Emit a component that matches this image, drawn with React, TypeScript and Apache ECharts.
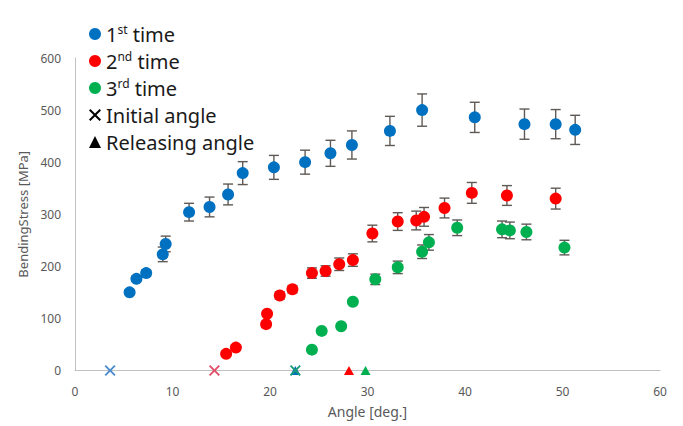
import React, { useEffect, useRef } from "react";
import * as echarts from "echarts";

// 1st time
const firstAngle = [5.6, 6.3, 7.3, 9.0, 9.3, 11.7, 13.8, 15.7, 17.2, 20.4, 23.6, 26.2, 28.4, 32.3, 35.6, 41.0, 46.1, 49.3, 51.3];
const firstStress = [150, 176, 187, 223, 243, 304, 314, 338, 379, 390, 400, 417, 433, 460, 500, 486, 473, 473, 462];
const firstErr = [4, 5, 6, 14, 15, 17, 19, 20, 22, 23, 23, 25, 27, 28, 31, 29, 29, 28, 28];

// 2nd time
const secondAngle = [15.5, 16.5, 19.6, 19.7, 21.0, 22.3, 24.3, 25.7, 27.1, 28.5, 30.5, 33.1, 35.0, 35.8, 37.9, 40.7, 44.3, 49.3];
const secondStress = [32, 44, 89, 109, 144, 156, 187, 191, 204, 212, 263, 286, 288, 295, 312, 341, 336, 330];
const secondErr = [3, 3, 5, 5, 7, 7, 10, 10, 12, 12, 16, 17, 18, 18, 19, 20, 19, 20];

// 3rd time
const thirdAngle = [24.3, 25.3, 27.3, 28.5, 30.8, 33.1, 35.6, 36.3, 39.2, 43.8, 44.6, 46.3, 50.2];
const thirdStress = [40, 76, 85, 132, 175, 198, 228, 246, 274, 271, 269, 266, 236];
const thirdErr = [3, 3, 4, 4, 10, 12, 13, 15, 15, 16, 16, 15, 14];

// Initial / releasing angles (stress = 0)
const initialAngles = [3.6, 14.3, 22.6];
const releasingAngles = [22.6, 28.1, 29.8];

const xTicks = { min: 0, max: 60, interval: 10 };
const yTicks = { min: 0, max: 600, interval: 100 };

const BLUE = "#0070C0";
const RED = "#FF0000";
const GREEN = "#00B050";
const X_BLUE = "#4a8ccc";
const X_RED = "#e0506a";
const X_GREEN = "#1d9a78";

const CROSS = "path://M0,1.2 L1.2,0 L5,3.8 L8.8,0 L10,1.2 L6.2,5 L10,8.8 L8.8,10 L5,6.2 L1.2,10 L0,8.8 L3.8,5 Z";

const FONT = "'Noto Sans', 'DejaVu Sans', sans-serif";

function toPoints(xs: number[], ys: number[]) {
  return xs.map((x, i) => [x, ys[i]]);
}
function toErr(xs: number[], ys: number[], es: number[]) {
  return xs.map((x, i) => [x, ys[i] - es[i], ys[i] + es[i]]);
}

function errorSeries(data: number[][]) {
  return {
    type: "custom",
    z: 1,
    silent: true,
    data,
    encode: { x: 0, y: [1, 2] },
    renderItem: (params: any, api: any) => {
      const x = api.value(0);
      const lo = api.coord([x, api.value(1)]);
      const hi = api.coord([x, api.value(2)]);
      const hw = 5;
      const style = { stroke: "#5f5a55", lineWidth: 1.4, fill: null };
      return {
        type: "group",
        children: [
          { type: "line", shape: { x1: lo[0], y1: lo[1], x2: hi[0], y2: hi[1] }, style },
          { type: "line", shape: { x1: lo[0] - hw, y1: lo[1], x2: lo[0] + hw, y2: lo[1] }, style },
          { type: "line", shape: { x1: hi[0] - hw, y1: hi[1], x2: hi[0] + hw, y2: hi[1] }, style },
        ],
      };
    },
  };
}

const legendLabels: Record<string, string> = {
  "1st time": "1{s|st} time",
  "2nd time": "2{s|nd} time",
  "3rd time": "3{s|rd} time",
  "Initial angle": "Initial angle",
  "Releasing angle": "Releasing angle",
};

export default function App() {
  const ref = useRef<HTMLDivElement>(null);

  useEffect(() => {
    if (!ref.current) return;
    const chart = echarts.init(ref.current, null, { renderer: "svg" });
    const initialColors = [X_BLUE, X_RED, X_GREEN];
    const releaseColors = [BLUE, RED, GREEN];
    chart.setOption({
      animation: false,
      backgroundColor: "#ffffff",
      textStyle: { fontFamily: FONT },
      grid: { left: 75, right: 23, top: 58, bottom: 55.5, containLabel: false },
      legend: {
        orient: "vertical",
        left: 84,
        top: 18,
        itemWidth: 12,
        itemHeight: 12,
        itemGap: 5,
        data: [
          { name: "1st time", icon: "circle" },
          { name: "2nd time", icon: "circle" },
          { name: "3rd time", icon: "circle" },
          { name: "Initial angle", icon: CROSS },
          { name: "Releasing angle", icon: "triangle" },
        ],
        formatter: (name: string) => legendLabels[name] || name,
        textStyle: {
          fontFamily: FONT,
          fontSize: 20,
          color: "#1a1a1a",
          lineHeight: 22,
          rich: {
            s: { fontFamily: FONT, fontSize: 12, color: "#1a1a1a", verticalAlign: "top" },
          },
        },
      },
      xAxis: {
        type: "value",
        min: xTicks.min,
        max: xTicks.max,
        interval: xTicks.interval,
        name: "Angle [deg.]",
        nameLocation: "middle",
        nameGap: 34,
        nameTextStyle: { fontFamily: FONT, fontSize: 14, color: "#595959" },
        axisLine: { show: true, lineStyle: { color: "#c0c0c0", width: 1 } },
        axisTick: { show: false },
        splitLine: { show: false },
        axisLabel: { margin: 15, fontFamily: FONT, fontSize: 12, color: "#595959" },
      },
      yAxis: {
        type: "value",
        min: yTicks.min,
        max: yTicks.max,
        interval: yTicks.interval,
        name: "BendingStress [MPa]",
        nameLocation: "middle",
        nameGap: 46,
        nameTextStyle: { fontFamily: FONT, fontSize: 13, color: "#595959" },
        axisLine: { show: true, lineStyle: { color: "#c0c0c0", width: 1 } },
        axisTick: { show: false },
        splitLine: { show: false },
        axisLabel: { margin: 14, fontFamily: FONT, fontSize: 12, color: "#595959" },
      },
      series: [
        errorSeries(toErr(firstAngle, firstStress, firstErr)),
        errorSeries(toErr(secondAngle, secondStress, secondErr)),
        errorSeries(toErr(thirdAngle, thirdStress, thirdErr)),
        {
          name: "1st time",
          type: "scatter",
          z: 3,
          symbol: "circle",
          symbolSize: 12,
          itemStyle: { color: BLUE, opacity: 1 },
          data: toPoints(firstAngle, firstStress),
        },
        {
          name: "2nd time",
          type: "scatter",
          z: 3,
          symbol: "circle",
          symbolSize: 12,
          itemStyle: { color: RED, opacity: 1 },
          data: toPoints(secondAngle, secondStress),
        },
        {
          name: "3rd time",
          type: "scatter",
          z: 3,
          symbol: "circle",
          symbolSize: 12,
          itemStyle: { color: GREEN, opacity: 1 },
          data: toPoints(thirdAngle, thirdStress),
        },
        {
          name: "Releasing angle",
          type: "scatter",
          z: 4,
          symbol: "triangle",
          symbolSize: [10, 9],
          itemStyle: { color: "#000000", opacity: 1 },
          data: releasingAngles.map((a, i) => ({ value: [a, 0], itemStyle: { color: releaseColors[i] } })),
        },
        {
          name: "Initial angle",
          type: "scatter",
          z: 5,
          symbol: CROSS,
          symbolSize: 11,
          itemStyle: { color: "#000000", opacity: 1 },
          data: initialAngles.map((a, i) => ({ value: [a, 0], itemStyle: { color: initialColors[i] } })),
        },
      ],
    });
    return () => chart.dispose();
  }, []);

  return (
    <div
      ref={ref}
      style={{ position: "fixed", left: 0, top: 0, width: 683, height: 426, background: "#fff" }}
    />
  );
}
